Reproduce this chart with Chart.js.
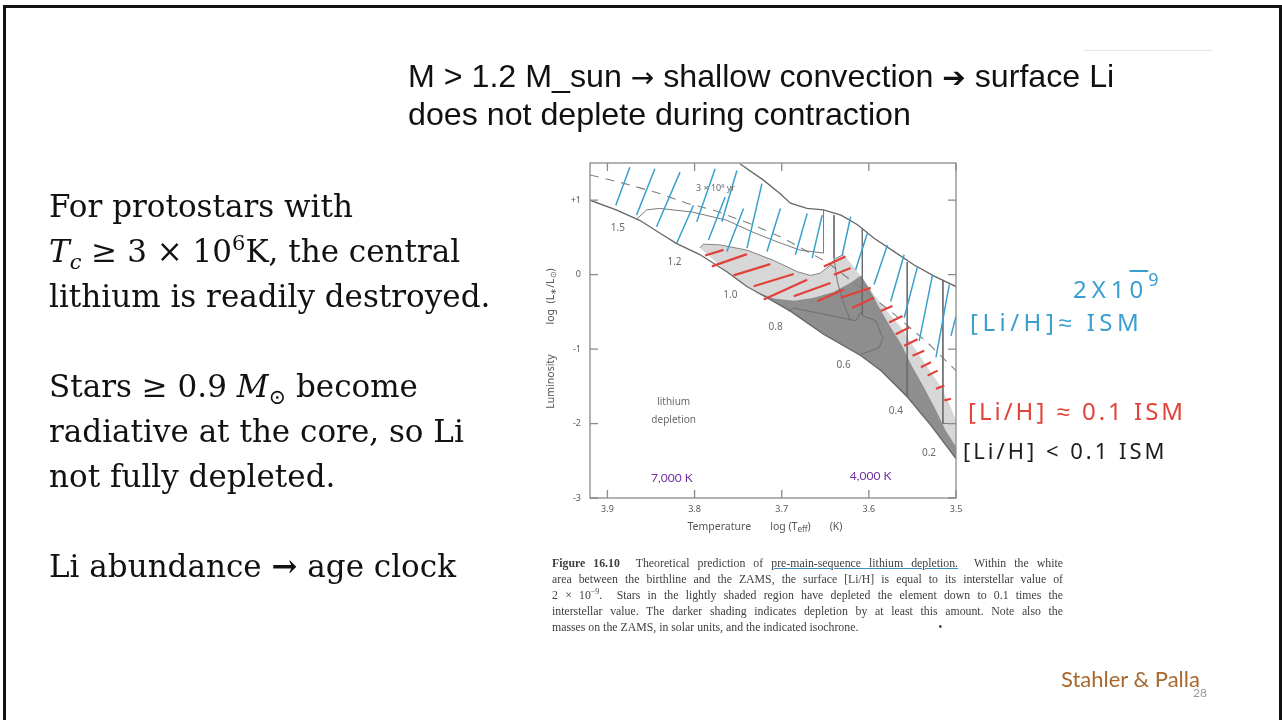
<!DOCTYPE html>
<html>
<head>
<meta charset="utf-8">
<script src="https://cdn.jsdelivr.net/npm/chart.js@4.4.1/dist/chart.umd.min.js"></script>
<style>
  html, body { margin:0; padding:0; background:#fff; }
  body { width:1282px; height:720px; overflow:hidden; position:relative; }
  #frame { position:absolute; left:3px; top:5px; width:1273px; height:760px; border:3px solid #111; }
  #chartWrap { position:absolute; left:0; top:0; width:1282px; height:720px; }
  .txt { position:absolute; white-space:pre; }
  .rel { position:relative; line-height:0; }
  #head { left:408px; top:58px; font:32.2px "Liberation Sans", Arial, sans-serif; line-height:36px; color:#111; }
  #head .ar { font-family:"DejaVu Sans", sans-serif; font-size:28px; }
  #left { left:49px; top:183.5px; font:31px "DejaVu Serif", serif; line-height:45px; color:#111; }
  #cap { left:552px; top:555px; width:511px; font:11.8px "Liberation Serif", serif; line-height:16px; color:#3e3e3e; white-space:normal; }
  #cap div { text-align:justify; text-align-last:justify; }
  #cap div.last { text-align-last:left; }
  #cap u { text-decoration-color:#3a8fc0; }
  .hand { font:24px "Noto Sans", sans-serif; line-height:1; letter-spacing:3px; }
  #credit { left:1061px; top:668px; font:22px Lato, sans-serif; line-height:1; color:#a8682f; }
  #page { left:1193px; top:687px; font:12px Lato, sans-serif; line-height:1; color:#999; }
  #rule { position:absolute; left:1083px; top:50px; width:130px; height:1px; background:#e6e6e6; }
</style>
</head>
<body>
<div id="frame"></div>
<div id="rule"></div>
<div id="chartWrap"><canvas id="chart" width="1282" height="720"></canvas></div>

<div class="txt" id="head">M &gt; 1.2 M_sun <span class="ar">→</span> shallow convection <b class="ar">➔</b> surface Li
does not deplete during contraction</div>

<div class="txt" id="left">For protostars with
<i>T<span class="rel" style="font-size:21px;top:7px">c</span></i> ≥ 3 × 10<span class="rel" style="font-size:21px;top:-12px">6</span>K, the central
lithium is readily destroyed.

Stars ≥ 0.9 <i>M</i><span class="rel" style="font-size:21px;top:7px">⊙</span> become
radiative at the core, so Li
not fully depleted.

Li abundance <b>→</b> age clock</div>

<div class="txt" id="cap"><div><b>Figure 16.10</b>&nbsp; Theoretical prediction of <u>pre-main-sequence lithium depletion.</u>&nbsp; Within the white</div><div>area between the birthline and the ZAMS, the surface [Li/H] is equal to its interstellar value of</div><div>2 × 10<span class="rel" style="font-size:8px;top:-5px">−9</span>.&nbsp; Stars in the lightly shaded region have depleted the element down to 0.1 times the</div><div>interstellar value. The darker shading indicates depletion by at least this amount. Note also the</div><div class="last">masses on the ZAMS, in solar units, and the indicated isochrone.<span style="margin-left:80px">•</span></div></div>

<div class="txt hand" style="left:1073px;top:277px;color:#3a9fd0;letter-spacing:5px">2X1<span style="text-decoration:overline">0</span><span class="rel" style="font-size:18px;top:-12px">9</span></div>
<div class="txt hand" style="left:970px;top:310px;color:#3a9fd0;letter-spacing:4.5px">[Li/H]≈ ISM</div>
<div class="txt hand" style="left:968px;top:399px;color:#e2433a">[Li/H] ≈ 0.1 ISM</div>
<div class="txt hand" style="left:963px;top:439px;font-size:22px;color:#1c1c1c">[Li/H] &lt; 0.1 ISM</div>

<div class="txt" id="credit">Stahler &amp; Palla</div>
<div class="txt" id="page">28</div>

<script>
// axis ticks
const xTicks = [3.9, 3.8, 3.7, 3.6, 3.5];
const yTicks = [1, 0, -1, -2, -3];
const yTickLabels = ["+1", "0", "-1", "-2", "-3"];

// zero-age main sequence
const zamsLogT = [3.920, 3.890, 3.863, 3.840, 3.821, 3.794, 3.763, 3.740, 3.717, 3.690, 3.652, 3.609, 3.586, 3.556, 3.529, 3.500];
const zamsLogL = [1.00, 0.87, 0.73, 0.56, 0.42, 0.27, 0.04, -0.16, -0.31, -0.49, -0.80, -1.09, -1.29, -1.64, -2.02, -2.47];

// birthline
const birthLogT = [3.748, 3.721, 3.702, 3.690, 3.671, 3.652, 3.632, 3.613, 3.594, 3.571, 3.548, 3.525, 3.500];
const birthLogL = [1.49, 1.27, 1.09, 0.96, 0.89, 0.87, 0.80, 0.67, 0.49, 0.31, 0.13, -0.02, -0.16];

// 3e6 yr isochrone
const isoLogT = [3.920, 3.882, 3.840, 3.809, 3.779, 3.733, 3.698, 3.647, 3.609, 3.571, 3.533, 3.500];
const isoLogL = [1.34, 1.23, 1.09, 0.96, 0.87, 0.67, 0.49, 0.16, -0.18, -0.53, -0.91, -1.29];

// edge of the lightly shaded region (closed by the ZAMS)
const lightLogT = [3.794, 3.790, 3.771, 3.740, 3.709, 3.682, 3.667, 3.656, 3.646, 3.638, 3.629, 3.619, 3.608, 3.594, 3.579, 3.563, 3.548, 3.533, 3.517, 3.506, 3.500];
const lightLogL = [0.36, 0.41, 0.40, 0.33, 0.19, 0.04, -0.01, 0.02, 0.11, 0.22, 0.27, 0.13, -0.04, -0.27, -0.49, -0.71, -0.98, -1.24, -1.51, -1.78, -1.96];

// edge of the dark region (closed by the ZAMS)
const darkLogT = [3.732, 3.709, 3.686, 3.663, 3.640, 3.621, 3.609, 3.600, 3.590, 3.577, 3.563, 3.550, 3.537, 3.523, 3.512, 3.500];
const darkLogL = [-0.22, -0.32, -0.35, -0.31, -0.23, -0.11, -0.01, -0.18, -0.40, -0.67, -0.93, -1.24, -1.51, -1.82, -2.09, -2.31];

// thin tracks, null = break
const trackLogT = [3.866, 3.855, 3.840, 3.802, 3.763, 3.733, 3.705, 3.679, 3.652, 3.652, null,
  3.640, 3.640, 3.636, 3.630, 3.621, null,
  3.692, 3.686, 3.652, 3.615, 3.609, null,
  3.6075, 3.6075, 3.592, 3.584, 3.588, 3.609, null,
  3.556, 3.556, null,
  3.515, 3.515, 3.500];
const trackLogL = [0.75, 0.87, 0.89, 0.84, 0.73, 0.57, 0.44, 0.33, 0.29, 0.87, null,
  0.80, 0.22, -0.10, -0.35, -0.62, null,
  -0.49, -0.45, -0.53, -0.62, -0.50, null,
  0.62, -0.55, -0.62, -0.85, -0.98, -1.07, null,
  0.17, -1.64, null,
  -0.07, -2.00, -2.00];

// hand drawn hatching: [logT1, logL1, logT2, logL2]
const blueHatch = [
  [3.8904, 0.933, 3.8743, 1.444], [3.8666, 0.800, 3.8455, 1.422], [3.8436, 0.644, 3.8167, 1.378],
  [3.8205, 0.422, 3.8013, 0.933], [3.7975, 0.711, 3.7764, 1.422], [3.7841, 0.467, 3.7649, 1.044],
  [3.7687, 0.711, 3.7514, 1.400], [3.7630, 0.311, 3.7438, 0.889], [3.7399, 0.356, 3.7227, 1.222],
  [3.7169, 0.311, 3.7015, 0.889], [3.6843, 0.267, 3.6708, 0.822], [3.6651, 0.222, 3.6536, 0.800],
  [3.6305, 0.267, 3.6209, 0.778], [3.6152, 0.067, 3.6017, 0.556], [3.5940, -0.133, 3.5787, 0.400],
  [3.5749, -0.356, 3.5595, 0.267], [3.5595, -0.578, 3.5441, 0.111], [3.5422, -0.889, 3.5269, 0.000],
  [3.5230, -1.111, 3.5077, -0.133], [3.5058, -0.822, 3.5000, -0.560]
];
const redHatch = [
  [3.7879, 0.258, 3.7668, 0.333], [3.7802, 0.111, 3.7399, 0.276], [3.7553, -0.009, 3.7131, 0.142],
  [3.7322, -0.156, 3.6862, 0.009], [3.7207, -0.333, 3.6708, -0.067], [3.6862, -0.289, 3.6440, -0.111],
  [3.6593, -0.356, 3.6286, -0.200], [3.6516, 0.111, 3.6267, 0.244], [3.6401, 0.000, 3.6209, 0.089],
  [3.6324, -0.311, 3.5979, -0.178], [3.6190, -0.444, 3.5940, -0.311], [3.5864, -0.489, 3.5729, -0.422],
  [3.5768, -0.644, 3.5614, -0.556], [3.5691, -0.800, 3.5537, -0.711], [3.5595, -0.956, 3.5441, -0.867],
  [3.5499, -1.089, 3.5365, -1.022], [3.5403, -1.244, 3.5288, -1.178], [3.5326, -1.356, 3.5211, -1.289],
  [3.5230, -1.533, 3.5134, -1.489], [3.5134, -1.689, 3.5058, -1.667]
];

// labels inside the plot
const massLabels = ["1.5", "1.2", "1.0", "0.8", "0.6", "0.4", "0.2"];
const massLogT = [3.888, 3.823, 3.759, 3.707, 3.629, 3.569, 3.531];
const massLogL = [0.63, 0.17, -0.28, -0.71, -1.21, -1.84, -2.40];
const noteLabels = ["3 × 10\u2076 yr", "lithium", "depletion"];
const noteLogT = [3.776, 3.824, 3.824];
const noteLogL = [1.16, -1.71, -1.96];
const tempLabels = ["7,000 K", "4,000 K"];
const tempLogT = [3.826, 3.598];
const tempLogL = [-2.73, -2.71];

function pts(xs, ys){
  return xs.map((x, i) => ({ x: x, y: ys[i] }));
}

function segs(list){
  const out = [];
  list.forEach(s => {
    out.push({ x: s[0], y: s[1] }, { x: s[2], y: s[3] }, { x: null, y: null });
  });
  return out;
}

function closeOnZams(xs, ys){
  const edge = pts(xs, ys);
  const back = pts(zamsLogT, zamsLogL).filter(p => p.x < xs[0]).reverse();
  return edge.concat(back);
}

// draw a run of [text, isSub] pieces centred on 0,0
function drawRuns(ctx, runs, size){
  const big = size + "px 'Noto Sans', sans-serif";
  const small = Math.round(size * 0.72) + "px 'Noto Sans', sans-serif";
  let w = 0;
  runs.forEach(r => { ctx.font = r[1] ? small : big; w += ctx.measureText(r[0]).width; });
  let x = -w / 2;
  ctx.textAlign = "left";
  runs.forEach(r => {
    ctx.font = r[1] ? small : big;
    ctx.fillText(r[0], x, r[1] ? size * 0.3 : 0);
    x += ctx.measureText(r[0]).width;
  });
}

const overlay = {
  id: "overlay",
  afterDatasetsDraw(chart){
    const { ctx, chartArea: a, scales: { x, y } } = chart;
    ctx.save();
    // frame
    ctx.strokeStyle = "#8a8a8a";
    ctx.lineWidth = 1.3;
    ctx.strokeRect(a.left, a.top, a.right - a.left, a.bottom - a.top);
    // inward ticks
    ctx.beginPath();
    xTicks.forEach(v => {
      const px = x.getPixelForValue(v);
      ctx.moveTo(px, a.bottom); ctx.lineTo(px, a.bottom - 8);
      ctx.moveTo(px, a.top); ctx.lineTo(px, a.top + 8);
    });
    yTicks.forEach(v => {
      const py = y.getPixelForValue(v);
      ctx.moveTo(a.left, py); ctx.lineTo(a.left + 8, py);
      ctx.moveTo(a.right, py); ctx.lineTo(a.right - 8, py);
    });
    ctx.stroke();

    ctx.textAlign = "center";
    ctx.textBaseline = "middle";
    ctx.fillStyle = "#6a6a6a";
    ctx.font = "10px 'Noto Sans', sans-serif";
    massLabels.forEach((t, i) => ctx.fillText(t, x.getPixelForValue(massLogT[i]), y.getPixelForValue(massLogL[i])));
    ctx.font = "9px 'Noto Sans', sans-serif";
    ctx.fillText(noteLabels[0], x.getPixelForValue(noteLogT[0]), y.getPixelForValue(noteLogL[0]));
    ctx.font = "10px 'Noto Sans', sans-serif";
    for (let i = 1; i < noteLabels.length; i++){
      ctx.fillText(noteLabels[i], x.getPixelForValue(noteLogT[i]), y.getPixelForValue(noteLogL[i]));
    }
    ctx.fillStyle = "#7030a0";
    ctx.font = "12px Lato, sans-serif";
    tempLabels.forEach((t, i) => ctx.fillText(t, x.getPixelForValue(tempLogT[i]), y.getPixelForValue(tempLogL[i])));

    // axis titles
    ctx.fillStyle = "#555";
    ctx.textBaseline = "middle";
    ctx.save();
    ctx.translate((a.left + a.right) / 2 - 8, a.bottom + 29);
    drawRuns(ctx, [["Temperature       log (T", false], ["eff", true], [")       (K)", false]], 10.5);
    ctx.restore();
    ctx.save();
    ctx.translate(a.left - 39, (a.top + a.bottom) / 2 + 8);
    ctx.rotate(-Math.PI / 2);
    drawRuns(ctx, [["Luminosity           log  (L", false], ["\u2217", true], ["/L", false], ["\u2299", true], [")", false]], 10.5);
    ctx.restore();
    ctx.restore();
  }
};

const base = { showLine: true, pointRadius: 0, fill: false };

new Chart(document.getElementById("chart"), {
  type: "scatter",
  data: {
    datasets: [
      { ...base, data: closeOnZams(lightLogT, lightLogL), fill: "shape", backgroundColor: "#d7d7d7", borderWidth: 0, order: 6 },
      { ...base, data: closeOnZams(darkLogT, darkLogL), fill: "shape", backgroundColor: "#8e8e8e", borderWidth: 0, order: 5 },
      { ...base, data: pts(lightLogT.slice(0, 11), lightLogL.slice(0, 11)), borderColor: "#777", borderWidth: 0.9, order: 4 },
      { ...base, data: pts(trackLogT, trackLogL), borderColor: "#6a6a6a", borderWidth: 0.9, spanGaps: false, order: 4 },
      { ...base, data: pts(isoLogT, isoLogL), borderColor: "#808080", borderWidth: 1.1, borderDash: [9, 7], order: 4 },
      { ...base, data: pts(zamsLogT, zamsLogL), borderColor: "#666", borderWidth: 1.3, order: 3 },
      { ...base, data: pts(birthLogT, birthLogL), borderColor: "#666", borderWidth: 1.3, order: 3 },
      { ...base, data: segs(blueHatch), borderColor: "#3aa0cc", borderWidth: 1.5, spanGaps: false, order: 2 },
      { ...base, data: segs(redHatch), borderColor: "#e0423b", borderWidth: 2.2, spanGaps: false, order: 1 }
    ]
  },
  options: {
    responsive: false,
    animation: false,
    layout: { padding: { left: 546, right: 326, top: 163, bottom: 186 } },
    plugins: { legend: { display: false }, tooltip: { enabled: false } },
    scales: {
      x: {
        type: "linear", reverse: true, min: 3.5, max: 3.92,
        afterBuildTicks: s => { s.ticks = xTicks.map(v => ({ value: v })); },
        afterFit: s => { s.height = 36; },
        grid: { display: false, drawTicks: false },
        border: { display: false },
        ticks: { padding: 6, color: "#5a5a5a", font: { size: 9, family: "'Noto Sans', sans-serif" }, callback: v => v.toFixed(1) }
      },
      y: {
        type: "linear", min: -3, max: 1.5,
        afterBuildTicks: s => { s.ticks = yTicks.map(v => ({ value: v })); },
        afterFit: s => { s.width = 44; },
        grid: { display: false, drawTicks: false },
        border: { display: false },
        ticks: { padding: 9, color: "#5a5a5a", font: { size: 9, family: "'Noto Sans', sans-serif" }, callback: v => yTickLabels[yTicks.indexOf(v)] }
      }
    }
  },
  plugins: [overlay]
});
</script>
</body>
</html>
